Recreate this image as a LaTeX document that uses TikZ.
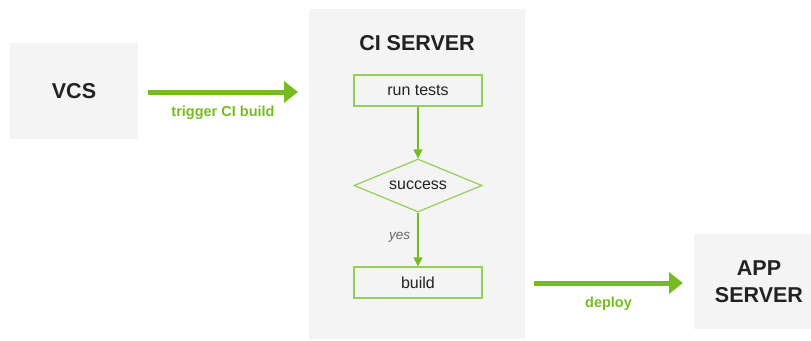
\documentclass[tikz,border=0pt]{standalone}
\usepackage{fontspec}
\setmainfont{Liberation Sans}
\usetikzlibrary{shapes.geometric,arrows.meta}
\definecolor{panel}{HTML}{F4F4F4}
\definecolor{leaf}{HTML}{76BC21}
\definecolor{leaflight}{HTML}{94CF57}
\definecolor{ink}{HTML}{222222}
\definecolor{note}{HTML}{666666}
\tikzset{
  block/.style={fill=panel, draw=none, inner sep=0pt, text=ink, font=\bfseries\fontsize{21.5}{27}\selectfont, align=center},
  stepbox/.style={draw=leaflight, line width=1.2pt, fill=panel, minimum width=128pt, minimum height=31pt, inner sep=0pt, text=ink, font=\fontsize{16}{18}\selectfont},
  decision/.style={diamond, aspect=2.4, draw=leaflight, line width=1.2pt, fill=panel, minimum width=128pt, minimum height=53pt, inner sep=0pt, text=ink, font=\fontsize{16}{18}\selectfont},
  flow/.style={draw=leaf, line width=1.3pt, -{Triangle[length=9pt,width=9pt]}},
  bigflow/.style={draw=leaf, line width=5pt, -{Triangle[length=14pt,width=21pt]}, shorten >=0pt},
  flowlabel/.style={text=leaf, font=\bfseries\fontsize{14.5}{17}\selectfont},
}
\begin{document}
\begin{tikzpicture}[x=1pt,y=-1pt]
  \useasboundingbox (0,0) rectangle (811,340);
  % CI server panel
  \fill[panel] (309,9) rectangle (525,339);
  \node[text=ink, font=\bfseries\fontsize{21.5}{25}\selectfont] (title) at (417,43) {CI SERVER};
  % outer systems (the app server box runs past the right edge)
  \node[block, minimum width=128pt, minimum height=96pt] (vcs) at (74,91) {VCS};
  \node[block, minimum width=130pt, minimum height=95pt] (app) at (759,281.5) {APP\\SERVER};
  % pipeline steps
  \node[stepbox] (tests) at (418,90.5) {run tests};
  \node[decision] (ok) at (418,185.5) {success};
  \node[stepbox] (build) at (418,282.5) {build};
  % connectors
  \draw[flow] (tests.south) -- (ok.north);
  \draw[flow] (ok.south) -- node[pos=0.45, left=4pt, text=note, font=\itshape\fontsize{13.5}{16}\selectfont] (yes) {yes} (build.north);
  \coordinate (t1) at (148,92);
  \coordinate (t2) at (298,92);
  \draw[bigflow] (t1) -- node[below=8pt, flowlabel] (trig) {trigger CI build} (t2);
  \coordinate (d1) at (534,283);
  \coordinate (d2) at (683,283);
  \draw[bigflow] (d1) -- node[below=8pt, flowlabel] (dep) {deploy} (d2);
\end{tikzpicture}
\end{document}
